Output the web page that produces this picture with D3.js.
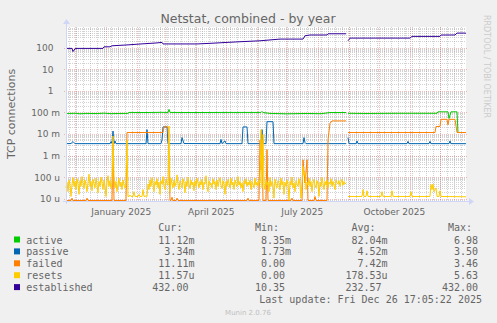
<!DOCTYPE html>
<html>
<head>
<meta charset="utf-8">
<script src="https://cdn.jsdelivr.net/npm/d3@7"></script>
<style>
  body { margin: 0; background: #f0f0f0; }
  svg { display: block; }
  .mono { font-family: "DejaVu Sans Mono", monospace; font-size: 10px; fill: #666; white-space: pre; }
</style>
</head>
<body>
<div id="chart"></div>
<script>
// time span of the graph (1 px per day)
const startDate = new Date(2024, 10, 21, 17, 5);
const endDate = new Date(2025, 11, 26, 17, 5);

const yTicks = [1e-5, 1e-4, 1e-3, 1e-2, 0.1, 1, 10, 100];
const yTickLabels = ["10 u", "100 u", "1 m", "10 m", "100 m", "1", "10", "100"];
const monthLabels = ["January 2025", "April 2025", "July 2025", "October 2025"];

const seriesNames = ["active", "passive", "failed", "resets", "established"];
const seriesColors = ["#00cc00", "#0066b3", "#ff8000", "#ffcc00", "#330099"];
const curValues = [" 11.12m", "  3.34m", " 11.11m", " 11.57u", "432.00 "];
const minValues = ["  8.35m", "  1.73m", "  0.00 ", "  0.00 ", " 10.35 "];
const avgValues = [" 82.04m", "  4.52m", "  7.42m", "178.53u", "232.57 "];
const maxValues = ["  6.98 ", "  3.50 ", "  3.46 ", "  5.63 ", "432.00 "];

// [day since start, value]; null = no data
const established = [[0,87],[6,87],[7,62],[9,84],[11,87],[37,87],[38,103],[44,103],[46,115],[60,125],[75,140],[90,155],[96,165],[97,140],[131,140],[145,150],[161,165],[177,180],[194,196],[214,235],[237,235],[239,334],[244,364],[261,364],[262,414],[280,414],[281,null],[282,196],[284,261],[344,261],[346,313],[374,313],[375,364],[389,364],[391,446],[399,446],[400,432]];

const active = [[0,0.084],[10,0.086],[14,0.081],[20,0.085],[30,0.083],[38,0.087],[45,0.082],[52,0.084],[62,0.085],[63,0.094],[80,0.093],[95,0.095],[102,0.094],[103,0.13],[104,0.094],[130,0.093],[160,0.094],[195,0.094],[196,0.105],[197,0.093],[204,0.085],[220,0.081],[240,0.084],[255,0.082],[264,0.093],[280,0.093],[281,null],[282,0.086],[300,0.084],[330,0.086],[371,0.086],[372,0.1],[382,0.1],[383,0.049],[385,0.1],[391,0.1],[392,0.011],[400,0.011]];

const passive = [[0,0.00336],[5,0.0034],[7,0.0042],[9,0.00336],[44,0.00336],[45,0.0042],[46,0.0035],[47,0.0129],[48,0.0034],[49,0.0045],[50,0.00336],[80,0.00336],[81,0.015],[82,0.00336],[95,0.00336],[96,0.005],[97,0.02],[101,0.02],[102,0.00336],[115,0.00336],[116,0.0064],[118,0.0034],[154,0.00336],[155,0.0053],[156,0.00336],[159,0.0045],[160,0.00336],[176,0.00336],[177,0.02],[181,0.02],[182,0.00336],[195,0.00336],[196,0.015],[197,0.00336],[200,0.00336],[201,0.035],[207,0.035],[208,0.00336],[237,0.00336],[238,0.0064],[239,0.0038],[240,0.00336],[280,0.00336],[281,null],[282,0.0064],[283,0.00336],[290,0.00336],[291,0.0045],[292,0.00336],[341,0.00336],[342,0.0043],[343,0.00336],[363,0.00336],[364,0.0043],[365,0.00336],[383,0.00336],[384,0.0045],[385,0.00336],[400,0.00334]];

const failed = [[0,0],[5,0],[6,1e-5],[7,0],[20,0],[21,1e-5],[22,0],[46,0],[47,0.004],[48,0],[60,0],[61,0.011],[97,0.011],[98,0.02],[102,0.02],[104,0],[105,0],[106,1.1e-5],[107,0],[110,0],[111,1e-5],[112,0],[181,0],[182,1e-5],[183,0],[193,0],[194,0.005],[195,0.0002],[196,0.005],[197,0],[200,0],[201,0.0018],[202,0],[225,0],[226,1e-5],[227,0],[236,0],[237,0.0006],[239,0.00005],[241,0.0006],[242,0],[248,0],[249,1.2e-5],[250,0],[261,0],[262,0.005],[264,0.03],[266,0.038],[280,0.038],[281,null],[282,0.011],[369,0.011],[370,0.021],[374,0.021],[375,0.045],[381,0.045],[382,0.025],[383,0.045],[389,0.045],[391,0.011],[400,0.011]];

// resets, one reading per day for days 0..280 (values in u)
const resetsDaily = [
    30,55,20,70,40,12,45,90,35,60, 25,80,45,15,65,35,100,50,28,70, 40,20,55,130,35,60,22,75,45,30,
    85,40,18,60,35,95,50,25,70,40, 12,55,110,35,65,28,50,40,75,30, 60,20,45,85,35,55,25,70,40,30, 50,
    12,12,12,14,12,12,12,20,12,12, 12,12,15,12,12,12,25,12,12,13, 12,
    45,25,70,35,90,50,20,60,40,80, 30,55,15,65,45,100,35,25,75,50, 40,60,20,85,45,30,70,35,55,120,
    40,25,65,45,30,80,50,18,60,35, 95,45,28,70,40,55,22,65,35,85, 50,30,60,40,75,25,55,45,110,35,
    20,65,40,50,30,80,45,60,25,70, 35,55,90,40,28,65,45,15,60,35, 75,50,30,85,40,55,25,70,45,35,
    100,40,60,30,50,20,65,45,80,35, 55,40,70,25,60,45,30,85,40,55, 35,70,50,
    60,30,80,45,25,70,40,55,20,90, 35,60,45,10,75,40,30,65,50,25, 85,40,60,15,55,35,70,45,8,60,
    40,95,30,50,20,65,45,35,80,40, 10,60,30,70,45,25,55,40,85,35, 60,20,50,75,40,30,65,45,12,55,
    35,90,50,25,60,40,70,30,55,45, 80,35,60,40,25,70,50,45,65,35, 55,75,40,60,45,50
];
const resetsSpikes = [[47,7600],[61,5000],[103,22000],[195,15000],[197,9000],[237,300],[238,120],[239,150]];
const resetsLate = [[282,12],[296,12],[297,25],[298,12],[300,12],[301,22],[302,12],[315,12],[316,20],[317,12],[325,12],[326,22],[327,12],[344,12],[345,20],[346,12],[364,12],[365,43],[366,25],[367,45],[368,20],[370,30],[371,12],[373,12],[374,22],[375,12],[400,11.57]];

const spikeMap = new Map(resetsSpikes);
const resets = resetsDaily.map((v, i) => [i, (spikeMap.has(i) ? spikeMap.get(i) : v) * 1e-6])
    .concat([[281, null]])
    .concat(resetsLate.map(d => [d[0], d[1] * 1e-6]));

const seriesData = [active, passive, failed, resets, established];

const width = 497, height = 323;
const plot = {left: 66, right: 466, top: 27, bottom: 201};

const svg = d3.select("#chart").append("svg")
    .attr("width", width)
    .attr("height", height);

svg.append("rect").attr("width", width).attr("height", height).attr("fill", "#f0f0f0");

const x = d3.scaleTime()
    .domain([startDate, endDate])
    .range([plot.left, plot.right]);

const y = d3.scaleLog()
    .domain([7.8e-6, 900])
    .range([plot.bottom, plot.top])
    .clamp(true);

const dayToDate = d => new Date(startDate.getTime() + d * 864e5);

// canvas
svg.append("rect")
    .attr("x", plot.left).attr("y", plot.top)
    .attr("width", plot.right - plot.left).attr("height", plot.bottom - plot.top)
    .attr("fill", "#ffffff");

// minor horizontal grid (2..9 in each decade)
let minorY = [];
yTicks.concat([1000]).forEach(t => {
    for (let k = 2; k <= 9; k++) minorY.push(t / 10 * k);
});
minorY = minorY.filter(v => y(v) > plot.top && y(v) < plot.bottom);

const minorColor = "rgba(143,143,143,0.4)";
const majorColor = "rgba(225,110,110,0.45)";

svg.append("g").selectAll("line").data(minorY).enter().append("line")
    .attr("x1", plot.left).attr("x2", plot.right)
    .attr("y1", d => Math.round(y(d)) + 0.5).attr("y2", d => Math.round(y(d)) + 0.5)
    .attr("stroke", minorColor)
    .attr("stroke-dasharray", "1,1");

// minor vertical grid (weekly)
const weeks = d3.timeMonday.range(startDate, endDate);
svg.append("g").selectAll("line").data(weeks).enter().append("line")
    .attr("x1", d => Math.round(x(d)) + 0.5).attr("x2", d => Math.round(x(d)) + 0.5)
    .attr("y1", plot.top).attr("y2", plot.bottom)
    .attr("stroke", minorColor)
    .attr("stroke-dasharray", "1,1");

// major grid
const months = d3.timeMonth.range(startDate, endDate);
svg.append("g").selectAll("line").data(months).enter().append("line")
    .attr("x1", d => Math.round(x(d)) + 0.5).attr("x2", d => Math.round(x(d)) + 0.5)
    .attr("y1", plot.top).attr("y2", plot.bottom + 2)
    .attr("stroke", majorColor)
    .attr("stroke-dasharray", "1,1");

svg.append("g").selectAll("line").data(yTicks).enter().append("line")
    .attr("x1", plot.left - 2).attr("x2", plot.right + 2)
    .attr("y1", d => Math.round(y(d)) + 0.5).attr("y2", d => Math.round(y(d)) + 0.5)
    .attr("stroke", majorColor)
    .attr("stroke-dasharray", "1,1");

// series lines
const line = d3.line()
    .defined(d => d[1] !== null)
    .x(d => x(dayToDate(d[0])))
    .y(d => y(d[1] > 0 ? d[1] : 1e-12) - 0.5)
    .curve(d3.curveLinear);

seriesData.forEach((s, i) => {
    svg.append("path")
        .datum(s)
        .attr("d", line)
        .attr("fill", "none")
        .attr("stroke", seriesColors[i])
        .attr("stroke-width", 1);
});

// axes
const axisColor = "#cfd6f8";
svg.append("line")
    .attr("x1", plot.left - 3).attr("x2", plot.right + 4)
    .attr("y1", plot.bottom + 0.5).attr("y2", plot.bottom + 0.5)
    .attr("stroke", axisColor);
svg.append("line")
    .attr("x1", plot.left + 0.5).attr("x2", plot.left + 0.5)
    .attr("y1", plot.bottom + 3).attr("y2", plot.top - 4)
    .attr("stroke", axisColor);
svg.append("path")
    .attr("d", `M${plot.right + 3},${plot.bottom - 3}L${plot.right + 8},${plot.bottom + 0.5}L${plot.right + 3},${plot.bottom + 4}Z`)
    .attr("fill", axisColor);
svg.append("path")
    .attr("d", `M${plot.left - 3},${plot.top - 3}L${plot.left + 0.5},${plot.top - 8}L${plot.left + 4},${plot.top - 3}Z`)
    .attr("fill", axisColor);

// y tick labels
svg.append("g").selectAll("text").data(yTicks).enter().append("text")
    .attr("x", (d, i) => yTickLabels[i].includes(" ") ? 60 : 53.5)
    .attr("y", d => y(d) + 3.5)
    .attr("text-anchor", "end")
    .attr("font-family", "DejaVu Sans")
    .attr("font-size", 9)
    .attr("fill", "#666")
    .text((d, i) => yTickLabels[i]);

// x labels, centred half a month after each quarter start
const quarters = [new Date(2025, 0, 1), new Date(2025, 3, 1), new Date(2025, 6, 1), new Date(2025, 9, 1)];
svg.append("g").selectAll("text").data(quarters).enter().append("text")
    .attr("x", d => x(new Date(d.getTime() + 15 * 864e5)))
    .attr("y", 215)
    .attr("text-anchor", "middle")
    .attr("font-family", "DejaVu Sans")
    .attr("font-size", 9)
    .attr("fill", "#666")
    .text((d, i) => monthLabels[i]);

// title
svg.append("text")
    .attr("x", 248).attr("y", 23)
    .attr("text-anchor", "middle")
    .attr("font-family", "DejaVu Sans")
    .attr("font-size", 12.5)
    .attr("fill", "#666")
    .text("Netstat, combined - by year");

// vertical axis title
svg.append("text")
    .attr("transform", "translate(15,114) rotate(-90)")
    .attr("text-anchor", "middle")
    .attr("font-family", "DejaVu Sans")
    .attr("font-size", 11)
    .attr("fill", "#666")
    .text("TCP connections");

// watermark
svg.append("text")
    .attr("transform", "translate(484,15) rotate(90)")
    .attr("font-family", "DejaVu Sans")
    .attr("font-size", 8)
    .attr("fill", "#cccccc")
    .text("RRDTOOL / TOBI OETIKER");

// legend
const legend = svg.append("g");
const cols = [152.3, 249, 345.5, 442];
[" Cur:", " Min:", " Avg:", " Max:"].forEach((h, j) => {
    legend.append("text").attr("class", "mono")
        .attr("x", cols[j]).attr("y", 231).text(h);
});
seriesNames.forEach((name, i) => {
    const yy = 243.5 + i * 11.9;
    legend.append("rect")
        .attr("x", 14).attr("y", yy - 7)
        .attr("width", 6).attr("height", 6)
        .attr("fill", seriesColors[i]);
    legend.append("text").attr("class", "mono").attr("x", 26.3).attr("y", yy).text(name);
    [curValues, minValues, avgValues, maxValues].forEach((col, j) => {
        legend.append("text").attr("class", "mono")
            .attr("x", cols[j]).attr("y", yy).text(col[i]);
    });
});
legend.append("text").attr("class", "mono")
    .attr("x", 482).attr("y", 303)
    .attr("text-anchor", "end")
    .text("Last update: Fri Dec 26 17:05:22 2025");

svg.append("text")
    .attr("x", 248).attr("y", 315)
    .attr("text-anchor", "middle")
    .attr("font-family", "DejaVu Sans")
    .attr("font-size", 7)
    .attr("fill", "#c0c0c0")
    .text("Munin 2.0.76");
</script>
</body>
</html>
